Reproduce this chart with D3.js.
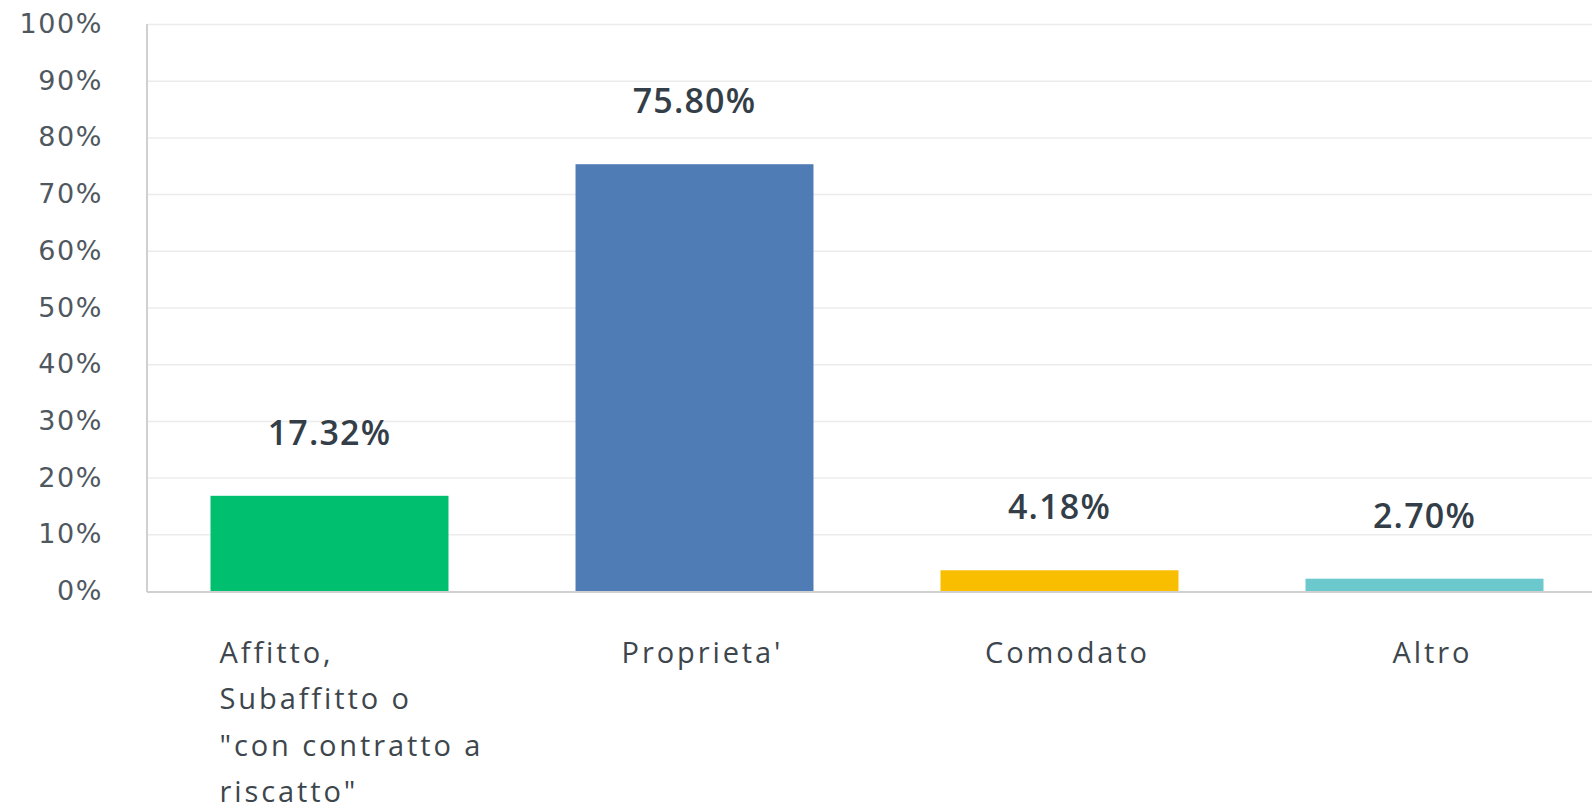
<!DOCTYPE html>
<html>
<head>
<meta charset="utf-8">
<script src="https://cdn.jsdelivr.net/npm/d3@7"></script>
<style>
  html, body { margin: 0; padding: 0; background: #fff; }
  svg { display: block; }
</style>
</head>
<body>
<svg id="chart" width="1592" height="811"></svg>
<script>
const categories = [
    ["Affitto,", "Subaffitto o", "\"con contratto a", "riscatto\""],
    ["Proprieta'"],
    ["Comodato"],
    ["Altro"]
];
const values = [17.32, 75.80, 4.18, 2.70];
const colors = ["#00bf6f", "#507cb6", "#f9be00", "#6bc8cd"];
const yTicks = [0, 10, 20, 30, 40, 50, 60, 70, 80, 90, 100];

const svg = d3.select("#chart");
const plotLeft = 147, plotTop = 24, plotBottom = 591, plotRight = 1607;

const x = d3.scaleBand()
    .domain(d3.range(values.length))
    .range([plotLeft, plotRight])
    .paddingInner(0.348)
    .paddingOuter(0.174);

const y = d3.scaleLinear().domain([0, 100]).range([plotBottom, plotTop]);

// gridlines
svg.append("g")
    .selectAll("line")
    .data(yTicks.filter(t => t > 0))
    .join("line")
    .attr("x1", plotLeft)
    .attr("x2", 1592)
    .attr("y1", d => y(d) + 0.5)
    .attr("y2", d => y(d) + 0.5)
    .attr("stroke", "#ececec")
    .attr("stroke-width", 1.5);

// y axis labels
svg.append("g")
    .selectAll("text")
    .data(yTicks)
    .join("text")
    .attr("x", 103)
    .attr("y", d => y(d) + 9)
    .attr("text-anchor", "end")
    .style("font-family", "'DejaVu Sans'")
    .style("font-size", "27px")
    .style("letter-spacing", "1.6px")
    .style("fill", "#50585f")
    .text(d => d + "%");

// bars (a small gap under the value line, as in the original)
svg.append("g")
    .selectAll("rect")
    .data(values)
    .join("rect")
    .attr("x", (d, i) => x(i))
    .attr("y", d => y(d) + 3)
    .attr("width", x.bandwidth())
    .attr("height", d => y(0) - y(d) - 3)
    .attr("fill", (d, i) => colors[i]);

// axis lines
svg.append("line")
    .attr("x1", plotLeft).attr("x2", plotLeft)
    .attr("y1", plotTop).attr("y2", plotBottom + 1)
    .attr("stroke", "#d0d0d0").attr("stroke-width", 2);
svg.append("line")
    .attr("x1", plotLeft).attr("x2", 1592)
    .attr("y1", plotBottom + 1).attr("y2", plotBottom + 1)
    .attr("stroke", "#d0d0d0").attr("stroke-width", 2);

// value labels
svg.append("g")
    .selectAll("text")
    .data(values)
    .join("text")
    .attr("x", (d, i) => x(i) + x.bandwidth() / 2)
    .attr("y", d => y(d) - 48)
    .attr("text-anchor", "middle")
    .style("font-family", "'Open Sans'")
    .style("font-weight", 600)
    .style("font-size", "34px")
    .style("letter-spacing", "1.2px")
    .style("fill", "#333e48")
    .text(d => d.toFixed(2) + "%");

// category labels
const catG = svg.append("g")
    .style("font-family", "'Open Sans'")
    .style("font-size", "29px")
    .style("letter-spacing", "2.9px")
    .style("fill", "#3d464d");

categories.forEach((lines, i) => {
    const multi = lines.length > 1;
    const t = catG.append("text")
        .attr("text-anchor", multi ? "start" : "middle");
    lines.forEach((line, j) => {
        t.append("tspan")
            .attr("x", multi ? x(i) + 9 : x(i) + x.bandwidth() / 2 + 8)
            .attr("y", 663 + j * 46.3)
            .text(line);
    });
});
</script>
</body>
</html>
